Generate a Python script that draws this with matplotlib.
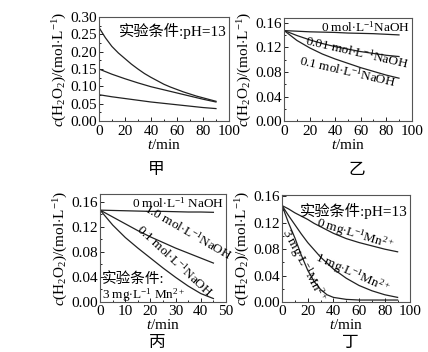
import matplotlib
matplotlib.use("Agg")
import matplotlib.pyplot as plt
from matplotlib.ticker import MultipleLocator

plt.rcParams['font.family'] = ['Liberation Serif', 'Noto Sans CJK SC']
plt.rcParams['mathtext.fontset'] = 'custom'
plt.rcParams['mathtext.rm'] = 'Liberation Serif'
plt.rcParams['mathtext.it'] = 'Liberation Serif:italic'
plt.rcParams['font.size'] = 11

# 甲
t_a1 = [0, 5, 10, 15, 20, 25, 30, 35, 40, 45, 50, 55, 60, 65, 70, 75, 80, 85, 90]
a1 = [0.27, 0.24, 0.215, 0.196, 0.18, 0.164, 0.15, 0.137, 0.126, 0.116, 0.106,
      0.098, 0.091, 0.084, 0.078, 0.072, 0.067, 0.062, 0.057]
t_a = [0, 10, 20, 30, 40, 50, 60, 70, 80, 90]
a2 = [0.15, 0.135, 0.122, 0.11, 0.099, 0.09, 0.081, 0.072, 0.063, 0.055]
a3 = [0.076, 0.07, 0.065, 0.06, 0.055, 0.051, 0.047, 0.043, 0.039, 0.036]

# 乙
t_b = [0, 10, 20, 30, 40, 50, 60, 70, 80, 90]
b0 = [0.147, 0.146, 0.145, 0.1445, 0.144, 0.143, 0.1425, 0.142, 0.141, 0.140]
b001 = [0.147, 0.139, 0.132, 0.126, 0.121, 0.117, 0.113, 0.110, 0.107, 0.105]
b01 = [0.147, 0.131, 0.119, 0.109, 0.101, 0.094, 0.087, 0.081, 0.075, 0.070]

# 丙
t_c = [0, 5, 10, 15, 20, 25, 30, 35, 40, 45]
c0 = [0.147, 0.1465, 0.146, 0.1455, 0.145, 0.145, 0.1445, 0.144, 0.144, 0.1435]
c10 = [0.147, 0.136, 0.125, 0.114, 0.104, 0.095, 0.086, 0.078, 0.070, 0.062]
c01 = [0.147, 0.123, 0.103, 0.086, 0.070, 0.054, 0.039, 0.025, 0.013, 0.005]

# 丁
t_d = [0, 5, 10, 15, 20, 25, 30, 35, 40, 50, 60, 70, 80, 90]
d0 = [0.146, 0.141, 0.135, 0.130, 0.125, 0.119, 0.114, 0.109, 0.104, 0.096, 0.090, 0.085, 0.080, 0.076]
d1 = [0.146, 0.131, 0.117, 0.103, 0.090, 0.079, 0.068, 0.059, 0.050, 0.036, 0.025, 0.017, 0.011, 0.007]
d3 = [0.146, 0.120, 0.097, 0.071, 0.048, 0.031, 0.019, 0.011, 0.007, 0.004, 0.003, 0.003, 0.003, 0.003]

ylab = r'$c$(H$_2$O$_2$)/(mol$\cdot$L$^{-1}$)'
lc = '#222222'
lw = 0.9
fs_note = 9.5

fig = plt.figure(figsize=(4.28, 3.52), dpi=100)
ax1 = fig.add_axes([0.231, 0.656, 0.304, 0.296])
ax2 = fig.add_axes([0.664, 0.655, 0.298, 0.295])
ax3 = fig.add_axes([0.234, 0.143, 0.294, 0.306])
ax4 = fig.add_axes([0.659, 0.142, 0.300, 0.304])

def style(ax, xmax, xmaj, xmin, ymax, ymaj, ymin, fmt):
    ax.set_xlim(0, xmax)
    ax.set_ylim(0, ymax)
    ax.xaxis.set_major_locator(MultipleLocator(xmaj))
    ax.xaxis.set_minor_locator(MultipleLocator(xmin))
    ax.yaxis.set_major_locator(MultipleLocator(ymaj))
    ax.yaxis.set_minor_locator(MultipleLocator(ymin))
    ax.yaxis.set_major_formatter(plt.FormatStrFormatter(fmt))
    ax.tick_params(which='both', direction='in', top=False, right=False)
    ax.tick_params(axis='y', pad=1.5)
    ax.tick_params(axis='x', pad=2.5)
    ax.tick_params(which='major', length=3, width=0.6)
    ax.tick_params(which='minor', length=1.5, width=0.6)
    for s in ax.spines.values():
        s.set_linewidth(0.8)
        s.set_color('#555555')
    ax.set_xlabel(r'$t$/min', labelpad=0)
    ax.set_ylabel(ylab, labelpad=1)

# 甲
ax1.plot(t_a1, a1, color=lc, lw=lw)
for y in (a2, a3):
    ax1.plot(t_a, y, color=lc, lw=lw)
style(ax1, 100, 20, 10, 0.30, 0.05, 0.025, '%.2f')
ax1.text(0.98, 0.94, '实验条件:pH=13', transform=ax1.transAxes, ha='right', va='top', fontsize=11)
ax1.text(0.44, -0.47, '甲', transform=ax1.transAxes, ha='center', va='center', fontsize=12)

# 乙
for y in (b0, b001, b01):
    ax2.plot(t_b, y, color=lc, lw=lw)
style(ax2, 100, 20, 10, 0.168, 0.04, 0.02, '%.2f')
ax2.text(64, 0.153, r'0 mol$\cdot$L$^{-1}$NaOH', ha='center', va='center', fontsize=fs_note)
ax2.text(57, 0.112, r'0.01 mol$\cdot$L$^{-1}$NaOH', ha='center', va='center', fontsize=fs_note, rotation=-13)
ax2.text(50, 0.080, r'0.1 mol$\cdot$L$^{-1}$NaOH', ha='center', va='center', fontsize=fs_note, rotation=-13)
ax2.text(0.57, -0.47, '乙', transform=ax2.transAxes, ha='center', va='center', fontsize=12)

# 丙
for y in (c0, c10, c01):
    ax3.plot(t_c, y, color=lc, lw=lw)
style(ax3, 50, 10, 5, 0.173, 0.04, 0.02, '%.2f')
ax3.text(31, 0.158, r'0 mol$\cdot$L$^{-1}$ NaOH', ha='center', va='center', fontsize=fs_note)
ax3.text(35, 0.112, r'1.0 mol$\cdot$L$^{-1}$NaOH', ha='center', va='center', fontsize=fs_note, rotation=-30)
ax3.text(29.5, 0.066, r'0.1 mol$\cdot$L$^{-1}$NaOH', ha='center', va='center', fontsize=fs_note, rotation=-43)
ax3.text(0.8, 0.037, '实验条件:', ha='left', va='center', fontsize=10.5)
ax3.text(0.8, 0.011, r'3 mg$\cdot$L$^{-1}$ Mn$^{2+}$', ha='left', va='center', fontsize=fs_note)
ax3.text(0.45, -0.38, '丙', transform=ax3.transAxes, ha='center', va='center', fontsize=12)

# 丁
for y in (d0, d1, d3):
    ax4.plot(t_d, y, color=lc, lw=lw)
style(ax4, 100, 20, 10, 0.162, 0.04, 0.02, '%.2f')
ax4.text(0.56, 0.93, '实验条件:pH=13', transform=ax4.transAxes, ha='center', va='top', fontsize=11)
ax4.text(57, 0.103, r'0 mg$\cdot$L$^{-1}$Mn$^{2+}$', ha='center', va='center', fontsize=fs_note, rotation=-17)
ax4.text(55, 0.043, r'1 mg$\cdot$L$^{-1}$Mn$^{2+}$', ha='center', va='center', fontsize=fs_note, rotation=-24)
ax4.text(17, 0.056, r'3 mg$\cdot$L$^{-1}$Mn$^{2+}$', ha='center', va='center', fontsize=fs_note, rotation=-62)
ax4.text(0.53, -0.38, '丁', transform=ax4.transAxes, ha='center', va='center', fontsize=12)

fig.savefig('out.png', dpi=100)
